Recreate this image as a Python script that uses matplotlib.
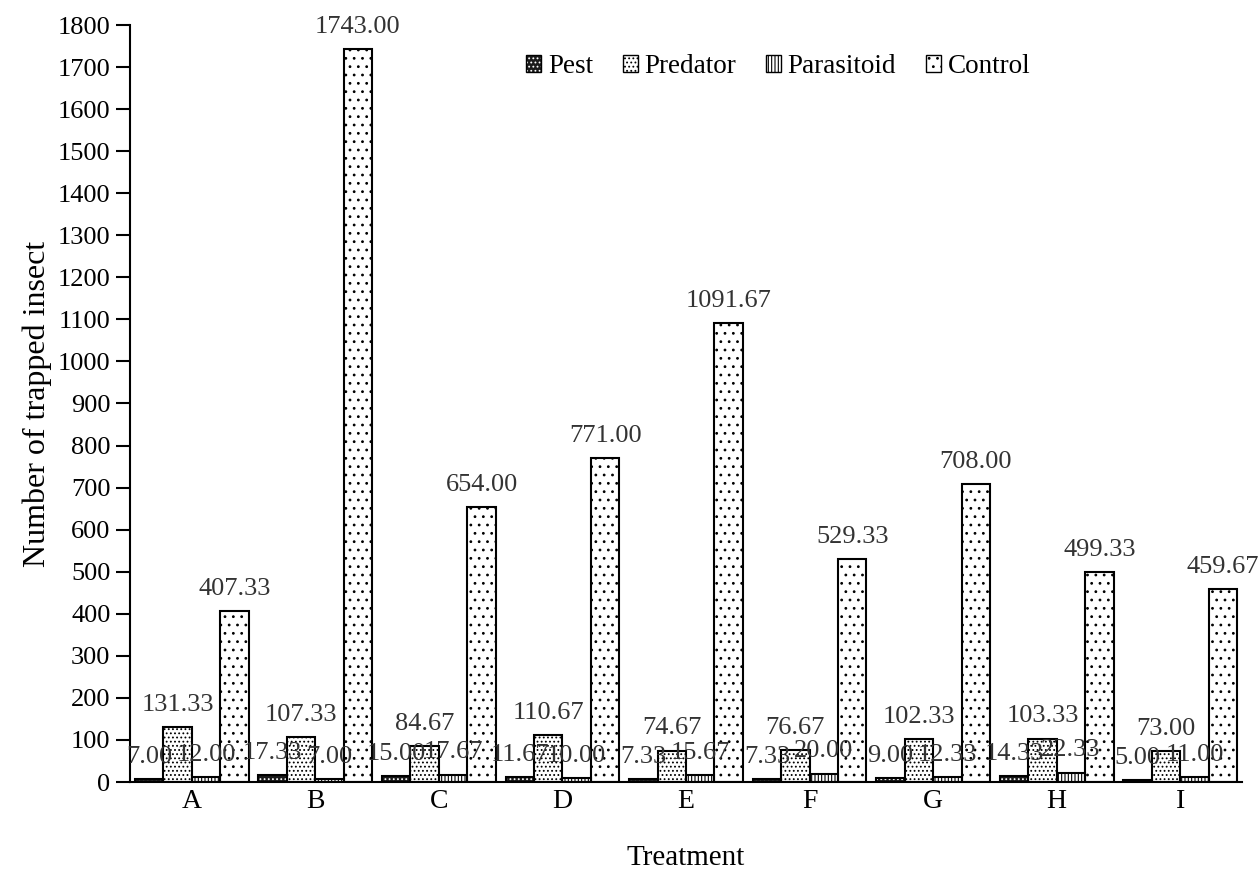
import numpy as np
import matplotlib
matplotlib.use("Agg")
import matplotlib.pyplot as plt
from matplotlib.patches import Patch

plt.rcParams['font.family'] = ['Liberation Serif', 'DejaVu Serif']
plt.rcParams['hatch.linewidth'] = 0.8

treatments = ["A", "B", "C", "D", "E", "F", "G", "H", "I"]
pest = [7.00, 17.33, 15.00, 11.67, 7.33, 7.33, 9.00, 14.33, 5.00]
predator = [131.33, 107.33, 84.67, 110.67, 74.67, 76.67, 102.33, 103.33, 73.00]
parasitoid = [12.00, 7.00, 17.67, 10.00, 15.67, 20.00, 12.33, 22.33, 11.00]
control = [407.33, 1743.00, 654.00, 771.00, 1091.67, 529.33, 708.00, 499.33, 459.67]

series = [
    ("Pest", pest, "#1a1a1a", "white", "...."),
    ("Predator", predator, "white", "black", "...."),
    ("Parasitoid", parasitoid, "white", "black", "|||||"),
    ("Control", control, "white", "black", ".."),
]

fig = plt.figure(figsize=(12.58, 8.71), dpi=100)
ax = fig.add_axes([130/1258, 1 - 782/871, 1112/1258, 757/871])

x = np.arange(len(treatments))
w = 0.23
handles = []
for i, (name, vals, fc, hc, hatch) in enumerate(series):
    pos = x + (i - 1.5) * w
    # hatch layer (hatch colour comes from edgecolor), then black outline on top
    ax.bar(pos, vals, w, color=fc, edgecolor=hc, hatch=hatch, linewidth=0, zorder=2)
    ax.bar(pos, vals, w, fill=False, edgecolor="black", linewidth=1.5, zorder=3)
    for px, v in zip(pos, vals):
        ax.annotate(f"{v:.2f}", (px, v), xytext=(0, 8), textcoords="offset points",
                    ha="center", va="bottom", fontsize=19, color="#333333", zorder=4)
    h1 = Patch(facecolor=fc, edgecolor=hc, hatch=hatch, linewidth=0)
    h2 = Patch(fill=False, edgecolor="black", linewidth=1.0)
    handles.append((h1, h2))

ax.set_xlim(-0.5, len(treatments) - 0.5)
ax.set_ylim(0, 1800)
ax.set_yticks(np.arange(0, 1801, 100))
ax.set_xticks(x)
ax.set_xticklabels(treatments)
ax.tick_params(axis="y", length=10, width=1.5, labelsize=19, pad=4)
ax.tick_params(axis="x", length=0, labelsize=20, pad=5)

for s in ["top", "right"]:
    ax.spines[s].set_visible(False)
for s in ["left", "bottom"]:
    ax.spines[s].set_linewidth(1.5)

ax.set_xlabel("Treatment", fontsize=21, labelpad=22)
ax.set_ylabel("Number of trapped insect", fontsize=23, labelpad=4)

ax.legend(handles, [s[0] for s in series], loc="center", bbox_to_anchor=(0.583, 0.945),
          ncol=4, frameon=False, fontsize=19.5, handlelength=0.55, handleheight=0.55,
          handletextpad=0.25, columnspacing=1.1)

fig.savefig("out.png", dpi=100)
